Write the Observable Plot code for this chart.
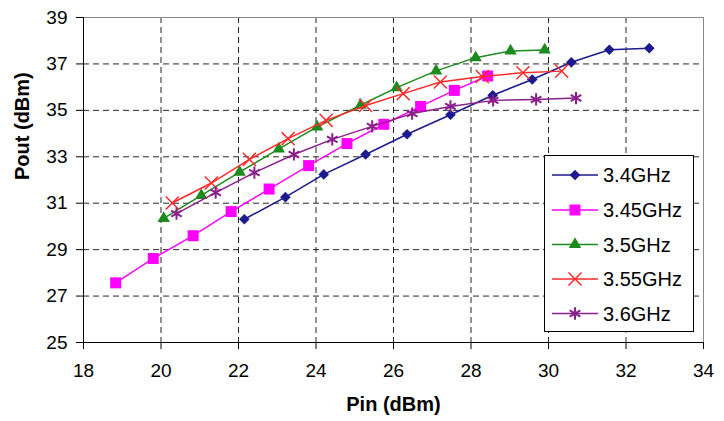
<!DOCTYPE html>
<html>
<head>
<meta charset="utf-8">
<script src="https://cdn.jsdelivr.net/npm/d3@7"></script>
<script src="https://cdn.jsdelivr.net/npm/@observablehq/plot@0.6"></script>
<style>
  html, body { margin: 0; padding: 0; background: #fff; }
  #wrap { position: relative; width: 724px; height: 421px; }
  #wrap svg { font-family: "Liberation Sans", Arial, sans-serif; }
  #legend { position: absolute; left: 0; top: 0; }
</style>
</head>
<body>
<div id="wrap"></div>
<script>
// ---- data ----
const seriesNames = ["3.4GHz", "3.45GHz", "3.5GHz", "3.55GHz", "3.6GHz"];
const seriesColors = ["#1b1b8f", "#ff00ff", "#1d8a1d", "#ff2a2a", "#8b1f8b"];

const pin34  = [22.15, 23.21, 24.2, 25.28, 26.35, 27.47, 28.56, 29.58, 30.59, 31.57, 32.6];
const pout34 = [30.31, 31.26, 32.24, 33.1, 33.97, 34.81, 35.65, 36.33, 37.07, 37.61, 37.68];

const pin345  = [18.83, 19.8, 20.83, 21.81, 22.79, 23.81, 24.8, 25.75, 26.7, 27.57, 28.43];
const pout345 = [27.57, 28.62, 29.6, 30.64, 31.61, 32.62, 33.57, 34.4, 35.17, 35.86, 36.48];

const pin35  = [20.07, 21.04, 22.03, 23.04, 24.03, 25.15, 26.08, 27.1, 28.12, 29.02, 29.9];
const pout35 = [30.35, 31.34, 32.34, 33.34, 34.29, 35.22, 35.98, 36.7, 37.27, 37.56, 37.6];

const pin355  = [20.29, 21.3, 22.28, 23.28, 24.26, 25.28, 26.25, 27.21, 28.29, 29.34, 30.34];
const pout355 = [31.01, 31.87, 32.89, 33.78, 34.57, 35.21, 35.72, 36.22, 36.46, 36.62, 36.69];

const pin36  = [20.4, 21.41, 22.41, 23.43, 24.42, 25.45, 26.48, 27.47, 28.57, 29.68, 30.71];
const pout36 = [30.55, 31.46, 32.32, 33.1, 33.75, 34.31, 34.86, 35.17, 35.43, 35.47, 35.53];

const xTicks = [18, 20, 22, 24, 26, 28, 30, 32, 34];
const yTicks = [25, 27, 29, 31, 33, 35, 37, 39];

// ---- build table ----
const pins = [pin34, pin345, pin35, pin355, pin36];
const pouts = [pout34, pout345, pout35, pout355, pout36];
const rows = [];
seriesNames.forEach((name, i) => {
  pins[i].forEach((x, j) => rows.push({series: name, pin: x, pout: pouts[i][j]}));
});

const symbols = ["diamond2", "square", "triangle", "times", "asterisk"];
const radii = [4.8, 6.2, 4.6, 6, 5.8];
const filled = [true, true, true, false, false];
const symStroke = [0, 0, 0, 1.5, 2];

const marks = [
  Plot.gridX(xTicks.slice(1, -1), {stroke: "#000", strokeOpacity: 0.85, strokeDasharray: "6,4"}),
  Plot.gridY(yTicks.slice(1, -1), {stroke: "#000", strokeOpacity: 0.85, strokeDasharray: "6,4"}),
  Plot.frame({stroke: "#8a8a8a"}),
  Plot.ruleX([18], {stroke: "#000"}),
  Plot.ruleY([25], {stroke: "#000"}),
  Plot.axisX({ticks: xTicks, tickSize: 7, tickPadding: 14, fontSize: 19, label: null}),
  Plot.axisY({ticks: yTicks, tickSize: 7, tickPadding: 9, fontSize: 19, label: null}),
  Plot.text(["Pin (dBm)"], {frameAnchor: "bottom", dy: 68, fontWeight: "bold", fontSize: 20, fill: "#000"}),
  Plot.text(["Pout (dBm)"], {frameAnchor: "left", dx: -61, rotate: -90, fontWeight: "bold", fontSize: 20, fill: "#000"})
];

seriesNames.forEach((name, i) => {
  const d = rows.filter(r => r.series === name);
  marks.push(Plot.line(d, {x: "pin", y: "pout", stroke: seriesColors[i], strokeWidth: 1.5}));
  marks.push(Plot.dot(d, filled[i]
    ? {x: "pin", y: "pout", symbol: () => symbols[i], r: radii[i], fill: seriesColors[i], stroke: "none"}
    : {x: "pin", y: "pout", symbol: () => symbols[i], r: radii[i], stroke: seriesColors[i], fill: "none", strokeWidth: symStroke[i]}));
});

const chart = Plot.plot({
  width: 724,
  height: 421,
  marginLeft: 83,
  marginRight: 21,
  marginTop: 17,
  marginBottom: 79,
  x: {domain: [18, 34]},
  y: {domain: [25, 39]},
  symbol: {type: "identity"},
  style: {fontFamily: "'Liberation Sans', Arial, sans-serif", color: "#000", background: "#fff"},
  marks
});
document.getElementById("wrap").appendChild(chart);

// ---- legend overlay ----
const leg = d3.select("#wrap").append("svg")
  .attr("id", "legend")
  .attr("width", 724).attr("height", 421)
  .style("pointer-events", "none");
leg.append("rect")
  .attr("x", 544.5).attr("y", 155.5).attr("width", 149).attr("height", 176)
  .attr("fill", "#fff").attr("stroke", "#000").attr("stroke-width", 1);
const symMap = {diamond2: d3.symbolDiamond2, square: d3.symbolSquare, triangle: d3.symbolTriangle, times: d3.symbolTimes, asterisk: d3.symbolAsterisk};
const legY = [175, 210, 244.5, 279, 313.5];
seriesNames.forEach((name, i) => {
  const y = legY[i];
  leg.append("line").attr("x1", 552).attr("x2", 598).attr("y1", y).attr("y2", y)
    .attr("stroke", seriesColors[i]).attr("stroke-width", 1.5);
  const p = d3.symbol(symMap[symbols[i]], Math.PI * radii[i] * radii[i])();
  leg.append("path").attr("d", p).attr("transform", `translate(575,${y})`)
    .attr("fill", filled[i] ? seriesColors[i] : "none")
    .attr("stroke", filled[i] ? "none" : seriesColors[i])
    .attr("stroke-width", symStroke[i]);
  leg.append("text").attr("x", 603).attr("y", y + 7)
    .attr("font-size", 20).attr("font-family", "'Liberation Sans', Arial, sans-serif")
    .attr("fill", "#000").text(name);
});
</script>
</body>
</html>
